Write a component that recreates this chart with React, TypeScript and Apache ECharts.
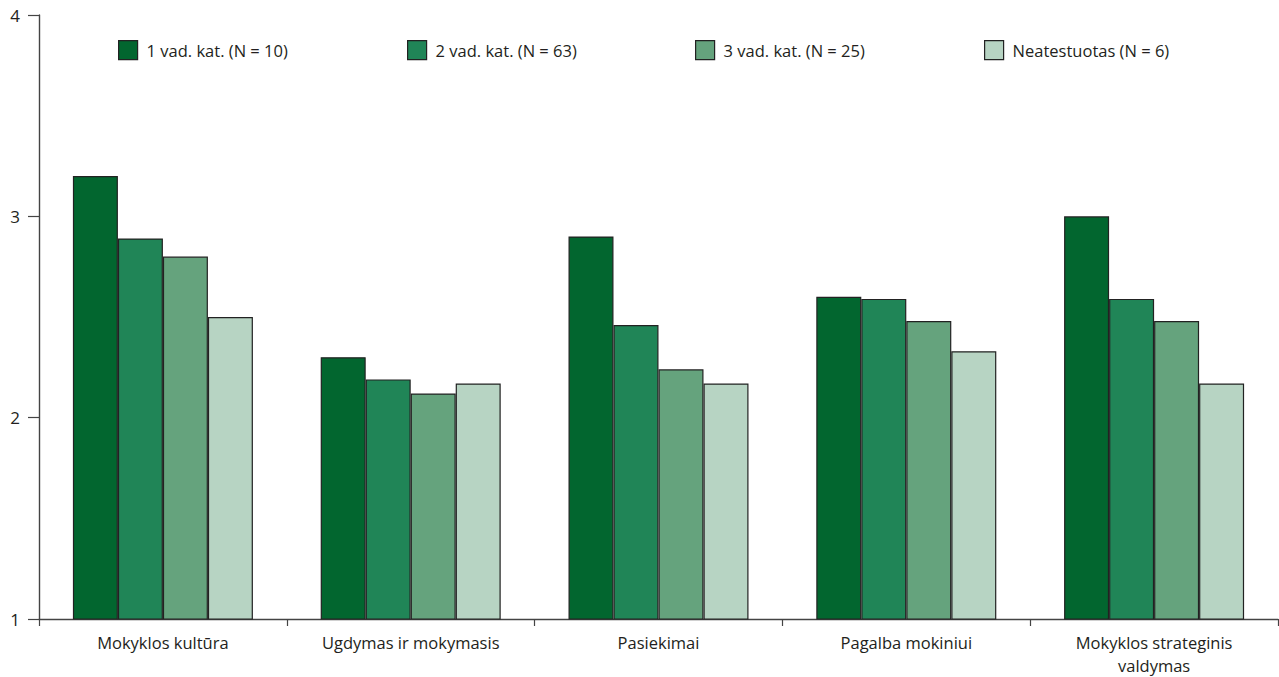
import React, { useEffect, useRef } from "react";
import * as echarts from "echarts";

const categories = [
  "Mokyklos kultūra",
  "Ugdymas ir mokymasis",
  "Pasiekimai",
  "Pagalba mokiniui",
  "Mokyklos strateginis\nvaldymas",
];
const seriesNames = [
  "1 vad. kat. (N = 10)",
  "2 vad. kat. (N = 63)",
  "3 vad. kat. (N = 25)",
  "Neatestuotas (N = 6)",
];
const cat1 = [3.2, 2.3, 2.9, 2.6, 3.0];
const cat2 = [2.89, 2.19, 2.46, 2.59, 2.59];
const cat3 = [2.8, 2.12, 2.24, 2.48, 2.48];
const notCert = [2.5, 2.17, 2.17, 2.33, 2.17];
const seriesValues = [cat1, cat2, cat3, notCert];
const colors = ["#02662f", "#208557", "#65a37d", "#b7d4c3"];
const yTicks = [1, 2, 3, 4];

const FONT = "'Open Sans', 'Noto Sans', sans-serif";

export default function App() {
  const ref = useRef<HTMLDivElement>(null);
  useEffect(() => {
    const chart = echarts.init(ref.current!, null, { renderer: "svg" });
    const legendLefts = [113, 402, 690, 979];
    chart.setOption({
      animation: false,
      textStyle: { fontFamily: FONT },
      legend: seriesNames.map((n, i) => ({
        data: [n],
        left: legendLefts[i],
        top: 35,
        icon: "rect",
        itemWidth: 19,
        itemHeight: 19,
        itemGap: 8,
        itemStyle: { borderColor: "#222", borderWidth: 1.2 },
        textStyle: { fontSize: 16.5, color: "#231f20", fontFamily: FONT, padding: [0, 0, 0, 4] },
        selectedMode: false,
      })),
      grid: { left: 39, right: 1, top: 15, bottom: 54, containLabel: false },
      xAxis: {
        type: "category",
        data: categories,
        axisLine: { lineStyle: { color: "#444", width: 1.4 } },
        axisTick: { show: true, length: 7, lineStyle: { color: "#444", width: 1.2 }, alignWithLabel: false },
        axisLabel: { fontSize: 16.5, color: "#231f20", margin: 12, lineHeight: 23, fontFamily: FONT },
      },
      yAxis: {
        type: "value",
        min: 1,
        max: 4,
        interval: 1,
        splitLine: { show: false },
        axisLine: { show: true, lineStyle: { color: "#444", width: 1.4 } },
        axisTick: { show: true, length: 11, lineStyle: { color: "#444", width: 1.2 } },
        axisLabel: {
          fontSize: 17,
          color: "#231f20",
          margin: 19,
          fontFamily: FONT,
          formatter: (v: number) => (yTicks.includes(v) ? String(v) : ""),
        },
      },
      series: seriesValues.map((vals, i) => ({
        name: seriesNames[i],
        type: "bar",
        data: vals,
        barWidth: 45,
        barGap: "0%",
        itemStyle: { color: colors[i], borderColor: "#222", borderWidth: 1.2 },
      })),
    });
    return () => chart.dispose();
  }, []);
  return (
    <div
      ref={ref}
      style={{ position: "absolute", left: 0, top: 0, width: 1279, height: 677, background: "#fff" }}
    />
  );
}
